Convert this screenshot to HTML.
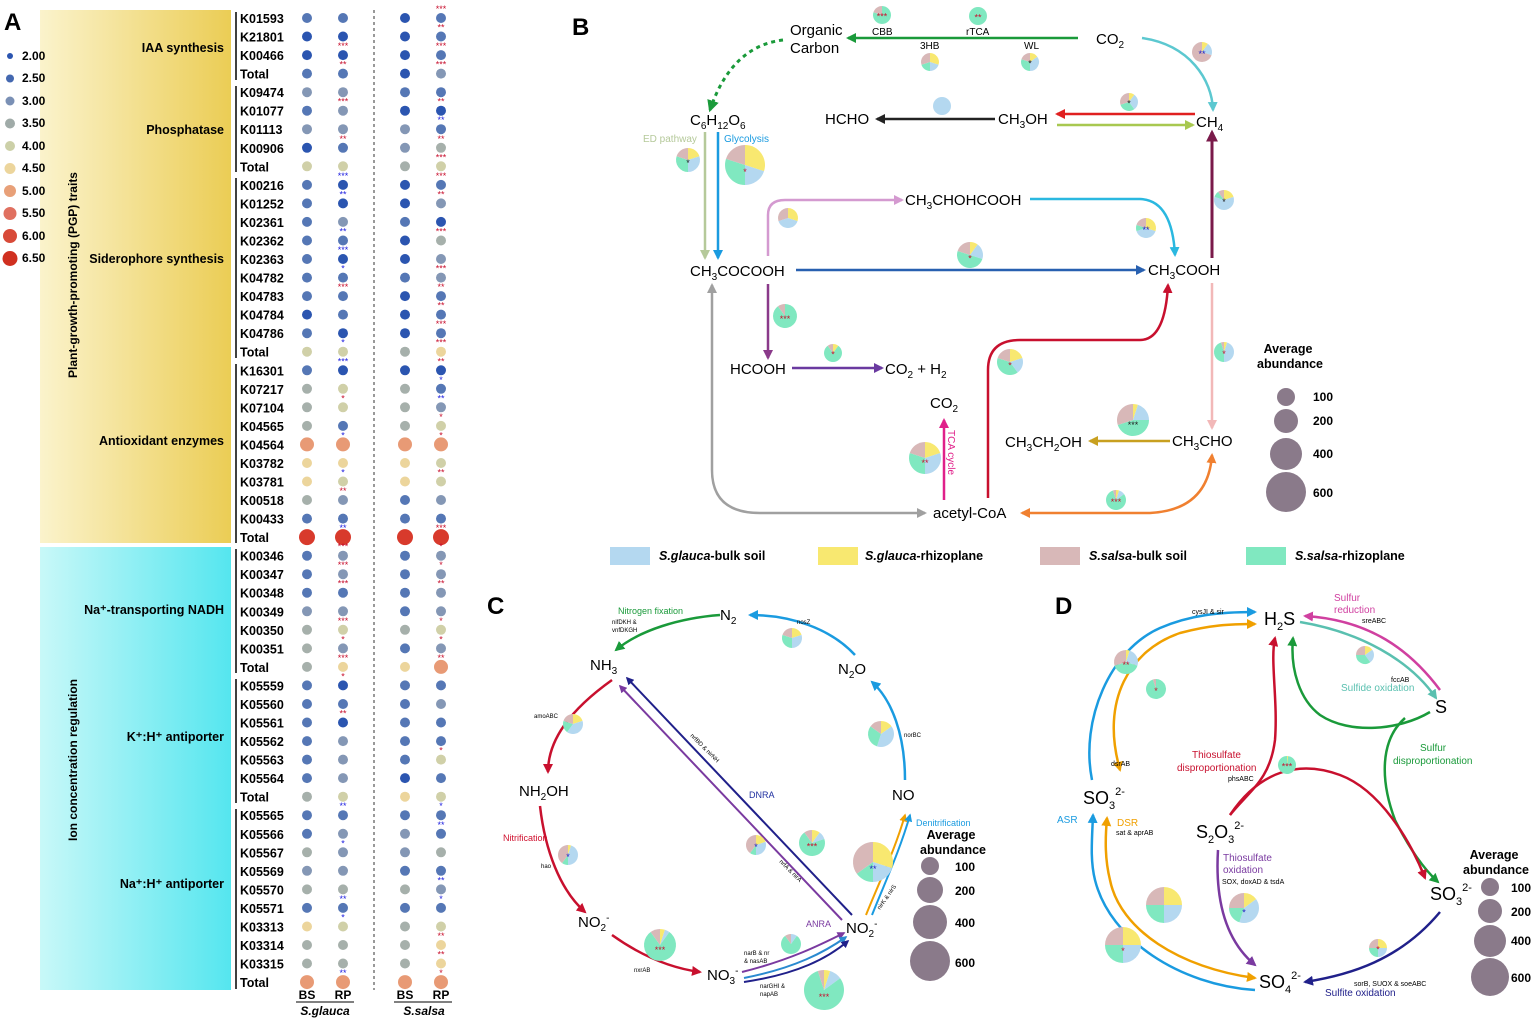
<!DOCTYPE html>
<html><head><meta charset="utf-8">
<style>
html,body{margin:0;padding:0;background:#fff;}
svg{display:block;font-family:"Liberation Sans",Arial,sans-serif;}
.b{font-weight:bold}
</style></head>
<body>
<svg id="s" width="1535" height="1021" viewBox="0 0 1535 1021" xmlns="http://www.w3.org/2000/svg">
<defs>
<linearGradient id="gy" x1="0" x2="1"><stop offset="0" stop-color="#fbf3cc"/><stop offset="1" stop-color="#ebcd55"/></linearGradient>
<linearGradient id="gc" x1="0" x2="1"><stop offset="0" stop-color="#c8f8f8"/><stop offset="1" stop-color="#55e6ef"/></linearGradient>
</defs>
<!-- Panel A -->
<rect x="40" y="10" width="191" height="533" fill="url(#gy)"/>
<rect x="40" y="547" width="191" height="443" fill="url(#gc)"/>
<text x="4" y="30" font-size="24" class="b">A</text>
<g font-size="12" class="b">
<text x="22" y="60">2.00</text><text x="22" y="82">2.50</text><text x="22" y="105">3.00</text><text x="22" y="127">3.50</text><text x="22" y="150">4.00</text><text x="22" y="172">4.50</text><text x="22" y="195">5.00</text><text x="22" y="217">5.50</text><text x="22" y="240">6.00</text><text x="22" y="262">6.50</text>
</g>
<text transform="translate(77,275) rotate(-90)" text-anchor="middle" font-size="12" class="b">Plant-growth-promoting (PGP) traits</text>
<text transform="translate(77,760) rotate(-90)" text-anchor="middle" font-size="12" class="b">Ion concentration regulation</text>
<g font-size="12.5" class="b" text-anchor="end">
<text x="224" y="52">IAA synthesis</text>
<text x="224" y="134">Phosphatase</text>
<text x="224" y="263">Siderophore synthesis</text>
<text x="224" y="445">Antioxidant enzymes</text>
<text x="224" y="614">Na⁺-transporting NADH</text>
<text x="224" y="741">K⁺:H⁺ antiporter</text>
<text x="224" y="888">Na⁺:H⁺ antiporter</text>
</g>
<g stroke="#000" stroke-width="1.5">
<line x1="236" y1="12" x2="236" y2="80"/><line x1="236" y1="86" x2="236" y2="172"/><line x1="236" y1="178" x2="236" y2="358"/><line x1="236" y1="364" x2="236" y2="543"/><line x1="236" y1="549" x2="236" y2="673"/><line x1="236" y1="679" x2="236" y2="803"/><line x1="236" y1="809" x2="236" y2="989"/>
</g>
<line x1="374" y1="10" x2="374" y2="990" stroke="#333" stroke-dasharray="3,3"/>
<g id="klabels" font-size="12.5" class="b">
<text x="240" y="23">K01593</text><text x="240" y="41.5">K21801</text><text x="240" y="60.1">K00466</text><text x="240" y="78.6">Total</text>
<text x="240" y="97.2">K09474</text><text x="240" y="115.7">K01077</text><text x="240" y="134.2">K01113</text><text x="240" y="152.8">K00906</text><text x="240" y="171.3">Total</text>
<text x="240" y="189.9">K00216</text><text x="240" y="208.4">K01252</text><text x="240" y="226.9">K02361</text><text x="240" y="245.5">K02362</text><text x="240" y="264">K02363</text><text x="240" y="282.6">K04782</text><text x="240" y="301.1">K04783</text><text x="240" y="319.6">K04784</text><text x="240" y="338.2">K04786</text><text x="240" y="356.7">Total</text>
<text x="240" y="375.3">K16301</text><text x="240" y="393.8">K07217</text><text x="240" y="412.3">K07104</text><text x="240" y="430.9">K04565</text><text x="240" y="449.4">K04564</text><text x="240" y="468">K03782</text><text x="240" y="486.5">K03781</text><text x="240" y="505">K00518</text><text x="240" y="523.6">K00433</text><text x="240" y="542.1">Total</text>
<text x="240" y="560.7">K00346</text><text x="240" y="579.2">K00347</text><text x="240" y="597.7">K00348</text><text x="240" y="616.3">K00349</text><text x="240" y="634.8">K00350</text><text x="240" y="653.4">K00351</text><text x="240" y="671.9">Total</text>
<text x="240" y="690.4">K05559</text><text x="240" y="709">K05560</text><text x="240" y="727.5">K05561</text><text x="240" y="746.1">K05562</text><text x="240" y="764.6">K05563</text><text x="240" y="783.1">K05564</text><text x="240" y="801.7">Total</text>
<text x="240" y="820.2">K05565</text><text x="240" y="838.8">K05566</text><text x="240" y="857.3">K05567</text><text x="240" y="875.8">K05569</text><text x="240" y="894.4">K05570</text><text x="240" y="912.9">K05571</text><text x="240" y="931.5">K03313</text><text x="240" y="950">K03314</text><text x="240" y="968.5">K03315</text><text x="240" y="987.1">Total</text>
</g>
<g font-size="12" class="b" text-anchor="middle">
<text x="307" y="999">BS</text><text x="343" y="999">RP</text><text x="405" y="999">BS</text><text x="441" y="999">RP</text>
</g>
<line x1="296" y1="1002" x2="354" y2="1002" stroke="#000"/><line x1="394" y1="1002" x2="452" y2="1002" stroke="#000"/>
<g font-size="12" class="b" font-style="italic" text-anchor="middle"><text x="325" y="1015">S.glauca</text><text x="424" y="1015">S.salsa</text></g>

<!-- Panel B -->
<g id="arrows"></g>
<g id="pies"></g>
<text x="572" y="35" font-size="24" class="b">B</text>
<g font-size="15">
<text x="790" y="35">Organic</text><text x="790" y="53">Carbon</text>
<text x="1096" y="44">CO<tspan font-size="10" dy="4">2</tspan></text>
<text x="690" y="125">C<tspan font-size="10" dy="4">6</tspan><tspan dy="-4">H</tspan><tspan font-size="10" dy="4">12</tspan><tspan dy="-4">O</tspan><tspan font-size="10" dy="4">6</tspan></text>
<text x="825" y="124">HCHO</text>
<text x="998" y="124">CH<tspan font-size="10" dy="4">3</tspan><tspan dy="-4">OH</tspan></text>
<text x="1196" y="127">CH<tspan font-size="10" dy="4">4</tspan></text>
<text x="905" y="205">CH<tspan font-size="10" dy="4">3</tspan><tspan dy="-4">CHOHCOOH</tspan></text>
<text x="690" y="276">CH<tspan font-size="10" dy="4">3</tspan><tspan dy="-4">COCOOH</tspan></text>
<text x="1148" y="275">CH<tspan font-size="10" dy="4">3</tspan><tspan dy="-4">COOH</tspan></text>
<text x="730" y="374">HCOOH</text>
<text x="885" y="374">CO<tspan font-size="10" dy="4">2</tspan><tspan dy="-4"> + H</tspan><tspan font-size="10" dy="4">2</tspan></text>
<text x="930" y="408">CO<tspan font-size="10" dy="4">2</tspan></text>
<text x="1005" y="447">CH<tspan font-size="10" dy="4">3</tspan><tspan dy="-4">CH</tspan><tspan font-size="10" dy="4">2</tspan><tspan dy="-4">OH</tspan></text>
<text x="1172" y="446">CH<tspan font-size="10" dy="4">3</tspan><tspan dy="-4">CHO</tspan></text>
<text x="933" y="518">acetyl-CoA</text>
</g>
<g font-size="10">
<text x="872" y="35">CBB</text><text x="966" y="35">rTCA</text><text x="920" y="49">3HB</text><text x="1024" y="49">WL</text>
<text x="643" y="142" fill="#b5c99a">ED pathway</text><text x="724" y="142" fill="#1a9be0">Glycolysis</text>
<text transform="translate(948,430) rotate(90)" fill="#e0208a">TCA cycle</text>
</g>
<g font-size="12.5" class="b" text-anchor="middle"><text x="1288" y="353">Average</text><text x="1290" y="368">abundance</text></g>
<g fill="#8a7a8a"><circle cx="1286" cy="397" r="9"/><circle cx="1286" cy="421" r="12"/><circle cx="1286" cy="454" r="16"/><circle cx="1286" cy="492" r="20"/></g>
<g font-size="12" class="b"><text x="1313" y="401">100</text><text x="1313" y="425">200</text><text x="1313" y="458">400</text><text x="1313" y="497">600</text></g>
<rect x="610" y="547" width="40" height="18" fill="#b4d8f0"/><rect x="818" y="547" width="40" height="18" fill="#f8e870"/><rect x="1040" y="547" width="40" height="18" fill="#d8b8b8"/><rect x="1246" y="547" width="40" height="18" fill="#80e8c0"/>
<g font-size="12.5" class="b">
<text x="659" y="560"><tspan font-style="italic">S.glauca</tspan>-bulk soil</text>
<text x="865" y="560"><tspan font-style="italic">S.glauca</tspan>-rhizoplane</text>
<text x="1089" y="560"><tspan font-style="italic">S.salsa</tspan>-bulk soil</text>
<text x="1295" y="560"><tspan font-style="italic">S.salsa</tspan>-rhizoplane</text>
</g>

<!-- Panel C -->
<text x="487" y="614" font-size="24" class="b">C</text>
<g font-size="15">
<text x="720" y="620">N<tspan font-size="10" dy="4">2</tspan></text>
<text x="590" y="670">NH<tspan font-size="10" dy="4">3</tspan></text>
<text x="838" y="674">N<tspan font-size="10" dy="4">2</tspan><tspan dy="-4">O</tspan></text>
<text x="519" y="796">NH<tspan font-size="10" dy="4">2</tspan><tspan dy="-4">OH</tspan></text>
<text x="892" y="800">NO</text>
<text x="578" y="927">NO<tspan font-size="10" dy="4">2</tspan><tspan font-size="10" dy="-10">-</tspan></text>
<text x="846" y="933">NO<tspan font-size="10" dy="4">2</tspan><tspan font-size="10" dy="-10">-</tspan></text>
<text x="707" y="980">NO<tspan font-size="10" dy="4">3</tspan><tspan font-size="10" dy="-10">-</tspan></text>
</g>
<g font-size="9">
<text x="618" y="614" fill="#1a9a3a">Nitrogen fixation</text>
<text x="612" y="624" font-size="6">nifDKH &amp;</text><text x="612" y="632" font-size="6">vnfDKGH</text>
<text x="797" y="624" font-size="6">nosZ</text>
<text x="534" y="718" font-size="6">amoABC</text>
<text x="503" y="841" fill="#d0102e">Nitrification</text>
<text x="541" y="868" font-size="6">hao</text>
<text x="634" y="972" font-size="6">nxrAB</text>
<text x="904" y="737" font-size="6">norBC</text>
<text x="749" y="798" fill="#2030a0">DNRA</text>
<text x="806" y="927" fill="#7a3aa0">ANRA</text>
<text x="916" y="826" fill="#1a9be0">Denitrification</text>
<text x="744" y="955" font-size="6">narB &amp; nr</text><text x="744" y="963" font-size="6">&amp; nasAB</text>
<text x="760" y="988" font-size="6">narGHI &amp;</text><text x="760" y="996" font-size="6">napAB</text>
<text transform="translate(690,736) rotate(45)" font-size="6">nrfBD &amp; nirNH</text>
<text transform="translate(779,862) rotate(45)" font-size="6">nrfA &amp; nirA</text>
<text transform="translate(880,910) rotate(-55)" font-size="6">nirK &amp; nirS</text>
</g>
<g font-size="12.5" class="b" text-anchor="middle"><text x="951" y="839">Average</text><text x="953" y="854">abundance</text></g>
<g fill="#8a7a8a"><circle cx="930" cy="866" r="9"/><circle cx="930" cy="890" r="13"/><circle cx="930" cy="922" r="17"/><circle cx="930" cy="961" r="20"/></g>
<g font-size="12" class="b"><text x="955" y="871">100</text><text x="955" y="895">200</text><text x="955" y="927">400</text><text x="955" y="967">600</text></g>

<!-- Panel D -->
<text x="1055" y="614" font-size="24" class="b">D</text>
<g font-size="18">
<text x="1264" y="625">H<tspan font-size="11" dy="5">2</tspan><tspan dy="-5">S</tspan></text>
<text x="1435" y="713">S</text>
<text x="1083" y="804">SO<tspan font-size="11" dy="5">3</tspan><tspan font-size="11" dy="-14">2-</tspan></text>
<text x="1196" y="838">S<tspan font-size="11" dy="5">2</tspan><tspan dy="-5">O</tspan><tspan font-size="11" dy="5">3</tspan><tspan font-size="11" dy="-14">2-</tspan></text>
<text x="1430" y="900">SO<tspan font-size="11" dy="5">3</tspan><tspan font-size="11" dy="-14">2-</tspan></text>
<text x="1259" y="988">SO<tspan font-size="11" dy="5">4</tspan><tspan font-size="11" dy="-14">2-</tspan></text>
</g>
<g font-size="10">
<text x="1334" y="601" fill="#d040a0">Sulfur</text><text x="1334" y="613" fill="#d040a0">reduction</text>
<text x="1362" y="623" font-size="7">sreABC</text>
<text x="1192" y="614" font-size="7">cysJI &amp; sir</text>
<text x="1391" y="682" font-size="7">fccAB</text>
<text x="1341" y="691" fill="#5ac0b0">Sulfide oxidation</text>
<text x="1420" y="751" fill="#1a9a3a">Sulfur</text><text x="1393" y="764" fill="#1a9a3a">disproportionation</text>
<text x="1192" y="758" fill="#c8102e">Thiosulfate</text><text x="1177" y="771" fill="#c8102e">disproportionation</text>
<text x="1228" y="781" font-size="7">phsABC</text>
<text x="1111" y="766" font-size="7">dsrAB</text>
<text x="1057" y="823" fill="#1a9be0">ASR</text>
<text x="1117" y="826" fill="#f0a000">DSR</text>
<text x="1116" y="835" font-size="7">sat &amp; aprAB</text>
<text x="1223" y="861" fill="#7a3aa0">Thiosulfate</text><text x="1223" y="873" fill="#7a3aa0">oxidation</text>
<text x="1222" y="884" font-size="7">SOX, doxAD &amp; tsdA</text>
<text x="1354" y="986" font-size="7">sorB, SUOX &amp; soeABC</text>
<text x="1325" y="996" fill="#20208a">Sulfite oxidation</text>
</g>
<g font-size="12.5" class="b" text-anchor="middle"><text x="1494" y="859">Average</text><text x="1496" y="874">abundance</text></g>
<g fill="#8a7a8a"><circle cx="1490" cy="887" r="9"/><circle cx="1490" cy="911" r="12"/><circle cx="1490" cy="941" r="16"/><circle cx="1490" cy="977" r="19"/></g>
<g font-size="12" class="b"><text x="1511" y="892">100</text><text x="1511" y="916">200</text><text x="1511" y="945">400</text><text x="1511" y="982">600</text></g>
<g id="dots"></g>
</svg>
<script>
var NS="http://www.w3.org/2000/svg",S=document.getElementById('s');
function el(t,a,p){var e=document.createElementNS(NS,t);for(var k in a)e.setAttribute(k,a[k]);(p||S).appendChild(e);return e;}
var defs=S.querySelector('defs'),mk={};
function marker(c){if(mk[c])return mk[c];var id='m'+Object.keys(mk).length;var m=el('marker',{id:id,viewBox:'0 0 10 10',refX:'8',refY:'5',markerWidth:'4',markerHeight:'4',orient:'auto-start-reverse'},defs);el('path',{d:'M0,0L10,5L0,10z',fill:c},m);mk[c]=id;return id;}
var AG=document.getElementById('arrows');
function A(d,c,w,both,dash){var a={d:d,stroke:c,'stroke-width':w||2.5,fill:'none','marker-end':'url(#'+marker(c)+')'};if(both)a['marker-start']='url(#'+marker(c)+')';if(dash)a['stroke-dasharray']=dash;el('path',a,AG);}
A('M1078,38L848,38','#1a9a3a');
A('M783,40C740,45 720,80 710,110','#1a9a3a',3,false,'4,4');
A('M1142,38C1190,45 1212,80 1213,110','#5cc8d0');
A('M995,119L877,119','#222');
A('M1195,114L1057,114','#e02020');
A('M1057,125L1193,125','#a8c850');
A('M1212,258L1212,132','#7a1a4a',3);
A('M705,132L705,258','#b5c99a');
A('M718,132L718,258','#1a9be0');
A('M796,270L1144,270','#2860b0');
A('M768,256L768,215Q768,200 785,200L902,200','#d49ad0');
A('M1030,199L1140,199Q1172,200 1175,255','#2ab8e0');
A('M768,284L768,358','#8a3a8a');
A('M792,368L882,368','#6a3aa0');
A('M1212,283L1212,428','#f2b8b8');
A('M1170,441L1090,441','#c8a020');
A('M988,498L988,370Q988,340 1020,340L1140,340Q1165,340 1168,285','#c8102e');
A('M712,285L712,470Q712,513 760,513L925,513','#a0a0a0',2.5,true);
A('M1022,513L1150,513Q1208,510 1212,455','#f08030',2.5,true);
A('M944,500L944,420','#e0208a');
A('M720,615C680,618 640,630 616,650','#1a9a3a');
A('M612,680C570,710 548,740 548,772','#c8102e');
A('M540,806C545,850 560,890 585,912','#c8102e');
A('M612,935C640,955 670,968 700,972','#c8102e');
A('M742,972C790,960 820,945 844,933','#7a3aa0',2);
A('M744,978C795,968 825,952 846,937','#2a8ad0',2);
A('M744,982C798,974 828,958 848,941','#20208a',2);
A('M905,780C905,735 892,700 872,682','#1a9be0');
A('M855,655C830,628 790,615 750,615','#1a9be0');
A('M852,915L627,678','#20208a',2);
A('M842,920L620,686','#7a3aa0',2);
A('M866,915C880,880 895,850 905,815','#f0a000',2);
A('M872,915C886,880 900,850 910,815','#1a9be0',2);
A('M1092,780C1080,720 1110,650 1160,628C1190,615 1220,612 1255,612','#1a9be0');
A('M1120,770C1100,700 1130,650 1180,633C1210,625 1230,624 1255,624','#f0a000',2.5,true);
A('M1300,622C1360,632 1410,660 1436,698','#5ac0b0');
A('M1440,690C1410,650 1370,620 1305,616','#d040a0');
A('M1430,712C1400,730 1350,735 1320,715C1300,700 1290,670 1293,638','#1a9a3a');
A('M1405,718C1380,740 1380,780 1395,820C1410,850 1425,870 1438,882','#1a9a3a');
A('M1230,815C1250,790 1270,780 1275,740C1278,700 1270,660 1275,638','#c8102e');
A('M1230,815C1260,770 1300,760 1340,775C1380,790 1410,840 1425,878','#c8102e');
A('M1218,850C1215,900 1225,940 1255,965','#7a3aa0');
A('M1440,912C1400,960 1350,975 1305,982','#20208a');
A('M1255,990C1180,985 1110,940 1095,880C1090,860 1092,840 1093,815','#1a9be0');
A('M1255,978C1180,968 1120,930 1110,880C1105,860 1105,840 1107,818','#f0a000',2.5,true);
var PG=document.getElementById('pies'),C=['#f8e870','#b4d8f0','#80e8c0','#d8b8b8'];
function P(x,y,r,f,st,sc){f=f||[.25,.25,.25,.25];var a=-Math.PI/2,t=f.reduce(function(p,q){return p+q},0);for(var i=0;i<4;i++){if(!f[i])continue;var b=a+f[i]/t*2*Math.PI;if(f[i]/t>.999){el('circle',{cx:x,cy:y,r:r,fill:C[i]},PG);}else{var L=(b-a)>Math.PI?1:0;el('path',{d:'M'+x+','+y+'L'+(x+r*Math.cos(a))+','+(y+r*Math.sin(a))+'A'+r+','+r+' 0 '+L+' 1 '+(x+r*Math.cos(b))+','+(y+r*Math.sin(b))+'Z',fill:C[i]},PG);}a=b;}
if(st){var t2=el('text',{x:x,y:y+r*0.5,'font-size':9,'text-anchor':'middle',fill:sc||'#c8102e'},PG);t2.textContent=st;}}
P(882,15,9,[0,0,.8,.2],'***');P(978,16,9,[0,0,1,0],'**');P(930,62,9,[.3,.2,.2,.3]);P(1030,62,9,[.15,.35,.3,.2],'*','#222');
P(688,160,12,[.2,.3,.3,.2],'*','#222');P(745,165,20,[.3,.2,.3,.2],'*','#c8102e');P(942,106,9,[0,1,0,0]);P(1129,102,9,[.1,.3,.3,.3],'*','#222');
P(1202,52,10,[.1,.2,0,.7],'**','#2020c0');P(788,218,10,[.3,.4,0,.3]);P(1146,228,10,[.3,.4,.1,.2],'**','#2020c0');P(1224,200,10,[.2,.6,.1,.1],'*','#222');
P(970,255,13,[.1,.2,.5,.2],'*');P(785,316,12,[0,0,.9,.1],'***');P(833,353,9,[.1,0,.8,.1],'*');P(1010,362,13,[.2,.2,.4,.2],'*');
P(1224,352,10,[.05,.45,.45,.05],'*');P(1133,420,16,[.05,.2,.45,.3],'***','#222');P(925,458,16,[.2,.3,.3,.2],'**');P(1116,500,10,[.05,.1,.8,.05],'***');
P(792,638,10,[.2,.3,.3,.2]);P(573,724,10,[.2,.4,.2,.2]);P(881,734,13,[.15,.4,.3,.15]);P(568,855,10,[.05,.45,.1,.4],'*','#2020c0');
P(660,945,16,[.05,.05,.8,.1],'***');P(756,845,10,[.2,.3,.1,.4],'*','#2020c0');P(812,843,13,[.1,.1,.7,.1],'***');P(791,944,10,[0,.1,.8,.1]);
P(873,862,20,[.3,.2,.15,.35],'**','#2020c0');P(824,990,20,[.05,.1,.8,.05],'***');
P(1126,662,12,[.05,.25,.4,.3],'**');P(1156,689,10,[0,0,.95,.05],'*');P(1365,655,9,[.15,.25,.35,.25]);P(1287,765,9,[.02,0,.98,0],'***');
P(1164,905,18,[.25,.25,.25,.25]);P(1123,945,18,[.25,.25,.25,.25],'*');P(1244,908,15,[.15,.4,.2,.25],'*','#2020c0');P(1378,948,9,[.25,.25,.25,.25],'*');
var col={b:'#2b55b0',m:'#5577b5',g:'#8497b5',s:'#a6b0ab',y:'#d0d0a8',t:'#ecd59c',o:'#e89a75',r:'#d83a2c'};
var rows=['mmbm','bbbm','bbbm','mmbg','ggmm','mgbb','gggm','bmgs','yysy','mbbm','mbbg','mgmb','mmbs','mbbg','mmmg','mmbm','bmbm','mbbm','yyst','mbbb','sysm','sysg','smsy','oooo','ttty','tyty','sgmg','mmmm','rrrr','mgmg','mgmg','mmmg','ggmg','sysy','sgmg','stto','mbmm','mmmg','mbmm','mgmm','mgmy','mgbm','syty','mmmm','mggm','sggs','ggmm','sssg','mmmm','tysy','ssst','ssst','oooo'];
var DG=document.getElementById('dots'),xs=[307,343,405,441];
var labs=document.querySelectorAll('#klabels text'),ry=[];
for(var i=0;i<labs.length;i++){ry.push(+labs[i].getAttribute('y')-5);}
for(var i=0;i<rows.length&&i<labs.length;i++){var y=ry[i];for(var j=0;j<4;j++){var c=rows[i][j],r=c=='r'?8:c=='o'?7:5;el('circle',{cx:xs[j],cy:y,r:r,fill:col[c]},DG);}}
var lc=['#2b55b0','#4468b0','#7a90b5','#a0aba8','#ccd0a8','#ecd59c','#e8a078','#e07060','#d84a38','#d03020'],lr=[3,4,4.5,5,5,5.5,6,6.5,7,7.5];
for(var k=0;k<10;k++)el('circle',{cx:10,cy:56+k*22.5,r:lr[k],fill:lc[k]},DG);
var st=[[441,12,'***','r'],[441,30,'**','r'],[343,48,'***','r'],[441,48,'***','r'],[343,66,'**','r'],[441,66,'***','r'],[343,103,'***','r'],[441,103,'**','r'],[441,121,'**','b'],[343,139,'**','r'],[441,139,'**','r'],[441,157,'***','r'],[343,176,'***','b'],[441,176,'***','r'],[343,194,'**','b'],[441,194,'**','r'],[441,230,'***','r'],[343,230,'**','b'],[343,249,'***','b'],[343,267,'*','b'],[441,267,'***','r'],[343,285,'***','r'],[441,285,'**','r'],[441,303,'**','r'],[441,321,'***','r'],[343,340,'*','b'],[441,340,'***','r'],[343,358,'***','b'],[441,358,'**','r'],[441,376,'*','b'],[343,394,'*','r'],[441,394,'**','b'],[441,412,'*','r'],[343,430,'*','b'],[441,430,'*','r'],[343,467,'*','b'],[441,467,'**','r'],[343,485,'**','r'],[343,522,'**','b'],[441,522,'***','r'],[343,540,'***','r'],[441,540,'*','r'],[343,558,'***','r'],[441,558,'*','r'],[343,576,'***','r'],[441,576,'**','r'],[343,613,'***','r'],[441,613,'*','r'],[343,631,'*','r'],[441,631,'*','r'],[343,649,'***','r'],[441,649,'**','r'],[343,667,'*','r'],[343,704,'**','r'],[441,740,'*','r'],[343,795,'**','b'],[441,795,'*','b'],[441,813,'**','b'],[343,831,'*','b'],[441,868,'**','b'],[343,886,'**','b'],[441,886,'*','b'],[343,904,'*','b'],[441,922,'**','r'],[441,941,'**','r'],[343,959,'**','b'],[441,959,'*','r']];
st.forEach(function(s){var row=Math.round((s[1]+7-18)/18.19);if(row<0)row=0;if(row>52)row=52;var y=ry[row]-6;var t=el('text',{x:s[0],y:y,'font-size':9,'text-anchor':'middle',fill:s[3]=='r'?'#c8102e':'#2020e0'},DG);t.textContent=s[2];});
</script>
</body></html>
